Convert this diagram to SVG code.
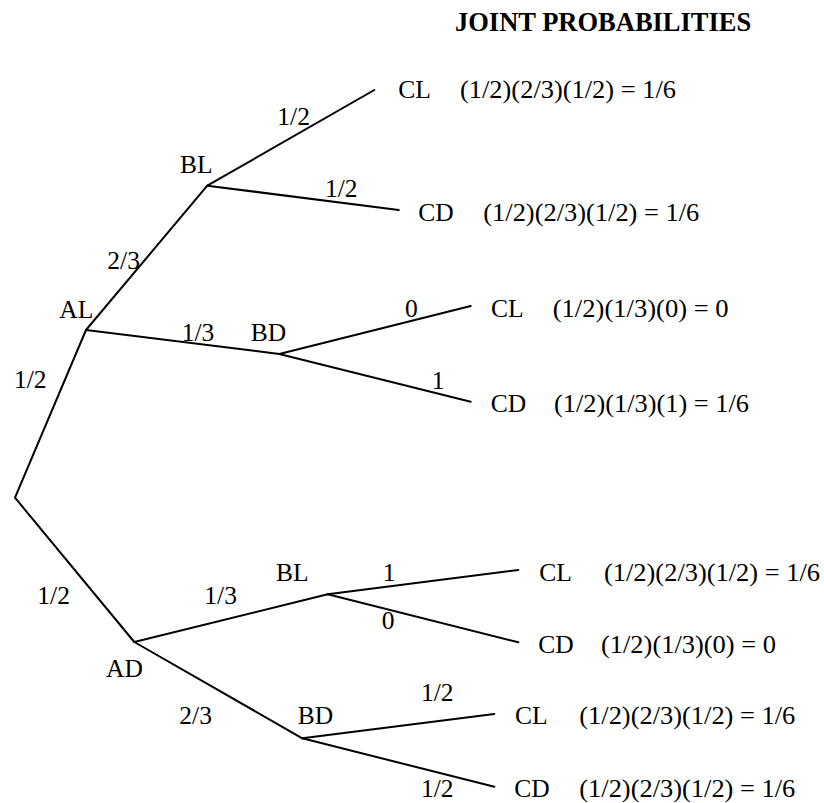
<svg xmlns="http://www.w3.org/2000/svg" width="824" height="803" viewBox="0 0 824 803">
<style>
text{font-family:"Liberation Serif","Times New Roman",serif;font-size:25.5px;fill:#000}
.t{font-weight:bold;font-size:26.5px}
.e{stroke:#000;stroke-width:2;fill:none;stroke-linecap:round;stroke-linejoin:round}
</style>
<rect width="824" height="803" fill="#fff"/>
<text class="t" x="455" y="31">JOINT PROBABILITIES</text>
<g id="connectors" class="e">
<line x1="15" y1="497.7" x2="86" y2="330"/>
<line x1="15" y1="497.7" x2="134.3" y2="642"/>
<line x1="86" y1="330" x2="207.3" y2="185.7"/>
<line x1="86" y1="330" x2="279.3" y2="354"/>
<line x1="207.3" y1="185.7" x2="374.3" y2="90"/>
<line x1="207.3" y1="185.7" x2="398.7" y2="210"/>
<line x1="279.3" y1="354" x2="470.7" y2="306"/>
<line x1="279.3" y1="354" x2="470.7" y2="401.7"/>
<line x1="134.3" y1="642" x2="327.7" y2="594.3"/>
<line x1="134.3" y1="642" x2="302.3" y2="738.3"/>
<line x1="327.7" y1="594.3" x2="518.3" y2="570"/>
<line x1="327.7" y1="594.3" x2="518.3" y2="642.3"/>
<line x1="302.3" y1="738.3" x2="494.3" y2="714"/>
<line x1="302.3" y1="738.3" x2="494.3" y2="786.7"/>
</g>
<g id="edge-labels">
<text x="14" y="388.3">1/2</text>
<text x="37.3" y="604">1/2</text>
<text x="107.3" y="269">2/3</text>
<text x="181.7" y="341">1/3</text>
<text x="277.3" y="125">1/2</text>
<text x="325" y="196.7">1/2</text>
<text x="405" y="316.7">0</text>
<text x="431.7" y="389">1</text>
<text x="204.3" y="604">1/3</text>
<text x="179.3" y="724.3">2/3</text>
<text x="382.7" y="580.7">1</text>
<text x="381.7" y="629">0</text>
<text x="421" y="700.7">1/2</text>
<text x="421" y="796.7">1/2</text>
</g>
<g id="root"/>
<g id="AL"><text x="59.3" y="317.7">AL</text></g>
<g id="AD"><text x="106" y="676.7">AD</text></g>
<g id="BL1"><text x="180" y="173.3">BL</text></g>
<g id="BD1"><text x="250.7" y="341">BD</text></g>
<g id="BL2"><text x="276" y="580.7">BL</text></g>
<g id="BD2"><text x="297.7" y="724.3">BD</text></g>
<g id="CL1"><text x="398.3" y="98.3">CL</text><text x="460" y="98.3" textLength="216" lengthAdjust="spacingAndGlyphs">(1/2)(2/3)(1/2) = 1/6</text></g>
<g id="CD1"><text x="418.3" y="220.7">CD</text><text x="483.3" y="220.7" textLength="216" lengthAdjust="spacingAndGlyphs">(1/2)(2/3)(1/2) = 1/6</text></g>
<g id="CL2"><text x="491" y="316.7">CL</text><text x="552.7" y="316.7" textLength="176" lengthAdjust="spacingAndGlyphs">(1/2)(1/3)(0) = 0</text></g>
<g id="CD2"><text x="490.7" y="412.3">CD</text><text x="554" y="412.3" textLength="195" lengthAdjust="spacingAndGlyphs">(1/2)(1/3)(1) = 1/6</text></g>
<g id="CL3"><text x="539.3" y="581">CL</text><text x="604" y="581" textLength="216" lengthAdjust="spacingAndGlyphs">(1/2)(2/3)(1/2) = 1/6</text></g>
<g id="CD3"><text x="538.3" y="653.3">CD</text><text x="601" y="653.3" textLength="175" lengthAdjust="spacingAndGlyphs">(1/2)(1/3)(0) = 0</text></g>
<g id="CL4"><text x="515" y="724.3">CL</text><text x="579.3" y="724.3" textLength="216" lengthAdjust="spacingAndGlyphs">(1/2)(2/3)(1/2) = 1/6</text></g>
<g id="CD4"><text x="514.3" y="796.7">CD</text><text x="579.3" y="796.7" textLength="216" lengthAdjust="spacingAndGlyphs">(1/2)(2/3)(1/2) = 1/6</text></g>
</svg>
